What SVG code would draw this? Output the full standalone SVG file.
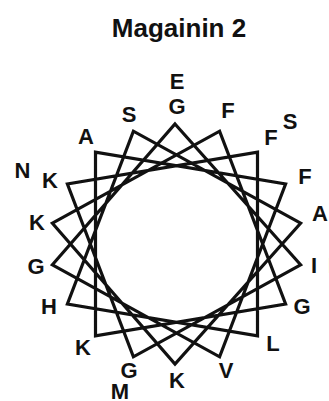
<svg xmlns="http://www.w3.org/2000/svg" width="329" height="401" viewBox="0 0 329 401">
<style>
.lbl{font-family:"Liberation Sans",Arial,sans-serif;font-weight:bold;font-size:22px;fill:#111;text-anchor:middle}
.title{font-family:"Liberation Sans",Arial,sans-serif;font-weight:bold;font-size:26px;fill:#111;text-anchor:middle}
.wheel{fill:none;stroke:#111;stroke-width:3.2;stroke-linejoin:miter}
</style>
<rect width="329" height="401" fill="#fff"/>
<text class="title" x="179" y="37">Magainin 2</text>
<g id="connectors">
<path class="wheel" d="M175,124 L300.6,264.8 L133.4,356.8 L67.4,184 L257.5,152.1 L257.5,335.9 L67.4,304 L133.4,131.2 L300.6,223.2 L175,364 L52.4,223.2 L219.6,131.2 L285.6,304 L95.5,335.9 L95.5,152.1 L285.6,184 L219.6,356.8 L52.4,264.8 Z"/>
</g>
<g id="res1"><text class="lbl" x="177" y="114">G</text></g>
<g id="res2"><text class="lbl" x="314" y="273">I</text></g>
<g id="res3"><text class="lbl" x="129" y="378">G</text></g>
<g id="res4"><text class="lbl" x="50" y="188">K</text></g>
<g id="res5"><text class="lbl" x="271" y="145">F</text></g>
<g id="res6"><text class="lbl" x="273" y="351">L</text></g>
<g id="res7"><text class="lbl" x="49" y="314">H</text></g>
<g id="res8"><text class="lbl" x="129" y="122">S</text></g>
<g id="res9"><text class="lbl" x="320" y="221">A</text></g>
<g id="res10"><text class="lbl" x="177" y="388">K</text></g>
<g id="res11"><text class="lbl" x="37" y="230">K</text></g>
<g id="res12"><text class="lbl" x="228" y="118">F</text></g>
<g id="res13"><text class="lbl" x="302" y="314">G</text></g>
<g id="res14"><text class="lbl" x="83" y="355">K</text></g>
<g id="res15"><text class="lbl" x="86" y="144">A</text></g>
<g id="res16"><text class="lbl" x="305" y="184">F</text></g>
<g id="res17"><text class="lbl" x="226" y="378">V</text></g>
<g id="res18"><text class="lbl" x="36" y="274">G</text></g>
<g id="res19"><text class="lbl" x="177" y="89">E</text></g>
<g id="res20"><text class="lbl" x="331" y="273">I</text></g>
<g id="res21"><text class="lbl" x="120" y="399">M</text></g>
<g id="res22"><text class="lbl" x="22.5" y="178">N</text></g>
<g id="res23"><text class="lbl" x="290" y="129">S</text></g>
</svg>
